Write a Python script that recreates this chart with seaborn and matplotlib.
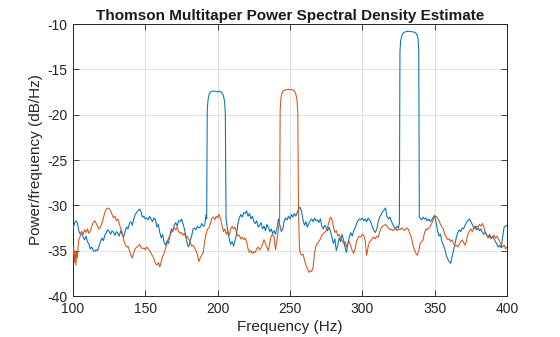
import numpy as np
import pandas as pd
import matplotlib
matplotlib.use("Agg")
import matplotlib.pyplot as plt
import seaborn as sns

# ---- data ----
blue_freq = [100, 101, 102, 103, 104, 105, 106, 107, 108, 109, 110, 111, 112, 113, 114, 115, 116, 117, 118, 119,
             120, 121, 122, 123, 124, 125, 126, 127, 128, 129, 130, 131, 132, 133, 134, 135, 136, 137, 138, 139,
             140, 141, 142, 143, 144, 145, 146, 147, 148, 149, 150, 151, 152, 153, 154, 155, 156, 157, 158, 159,
             160, 161, 162, 163, 164, 165, 166, 167, 168, 169, 170, 171, 172, 173, 174, 175, 176, 177, 178, 179,
             180, 181, 182, 183, 184, 185, 186, 187, 188, 189, 190, 191, 192, 192.4, 192.8, 193.3, 194, 195, 196.5, 198,
             200, 201, 202.5, 204, 204.8, 205.3, 205.8, 206.5, 207, 208, 209, 210, 211, 212, 213, 214, 215, 216, 217, 218,
             219, 220, 221, 222, 223, 224, 225, 226, 227, 228, 229, 230, 231, 232, 233, 234, 235, 236, 237, 238,
             239, 240, 241, 242, 243, 244, 245, 246, 247, 248, 249, 250, 251, 252, 253, 254, 255, 256, 257, 258,
             259, 260, 261, 262, 263, 264, 265, 266, 267, 268, 269, 270, 271, 272, 273, 274, 275, 276, 277, 278,
             279, 280, 281, 282, 283, 284, 285, 286, 287, 288, 289, 290, 291, 292, 293, 294, 295, 296, 297, 298,
             299, 300, 301, 302, 303, 304, 305, 306, 307, 308, 309, 310, 311, 312, 313, 314, 315, 316, 317, 318,
             319, 320, 321, 322, 323, 324, 325, 325.6, 326.0, 326.5, 327.5, 328.5, 330, 332, 334, 336, 337.5, 338.5, 339.0, 339.4,
             340, 341, 342, 343, 344, 345, 346, 347, 348, 349, 350, 351, 352, 353, 354, 355, 356, 357, 358, 359,
             360, 361, 362, 363, 364, 365, 366, 367, 368, 369, 370, 371, 372, 373, 374, 375, 376, 377, 378, 379,
             380, 381, 382, 383, 384, 385, 386, 387, 388, 389, 390, 391, 392, 393, 394, 395, 396, 397, 398, 399, 400]
blue_psd = [-32.6, -32.0, -31.7, -31.9, -32.8, -33.2, -32.9, -33.5, -33.8, -33.4, -34.0, -34.3, -34.8, -34.6, -35.0, -35.1, -34.9, -35.0, -34.5, -34.0,
            -33.6, -33.9, -33.3, -33.0, -32.7, -32.9, -33.2, -32.8, -33.0, -33.3, -32.9, -33.1, -33.4, -32.8, -33.2, -33.5, -32.9, -32.4, -32.6, -32.0,
            -31.8, -32.2, -31.5, -31.0, -30.8, -30.6, -30.4, -30.7, -31.3, -31.2, -31.5, -31.4, -31.6, -31.2, -31.5, -31.8, -31.4, -31.6, -32.4, -32.1,
            -33.0, -33.6, -33.2, -34.1, -34.4, -33.9, -34.2, -33.3, -32.6, -32.9, -32.2, -31.9, -32.3, -31.7, -31.8, -31.5, -32.0, -32.6, -33.4, -34.3,
            -34.6, -33.9, -33.4, -32.6, -32.5, -32.7, -32.3, -32.5, -32.4, -32.0, -32.3, -32.2, -31.0, -31.5, -19.5, -18.4, -17.8, -17.5, -17.4, -17.4,
            -17.5, -17.4, -17.5, -17.9, -18.6, -20.0, -31.5, -32.3, -33.0, -33.7, -34.3, -34.0, -34.5, -33.9, -33.2, -32.0, -31.4, -31.0, -31.3, -30.8,
            -30.9, -30.6, -31.2, -30.9, -31.5, -31.2, -31.8, -32.0, -31.7, -32.4, -32.2, -31.9, -32.6, -32.3, -32.8, -32.1, -32.4, -32.9, -32.6, -33.1,
            -32.8, -33.2, -32.5, -31.5, -32.2, -32.9, -32.6, -31.7, -31.4, -31.6, -31.2, -31.5, -31.0, -31.3, -30.9, -31.2, -30.8, -30.4, -30.2, -30.7,
            -31.6, -32.2, -31.8, -32.4, -32.0, -31.7, -31.5, -31.8, -31.4, -31.7, -31.6, -31.9, -31.5, -32.3, -32.6, -32.2, -32.5, -32.8, -32.4, -32.9,
            -33.5, -34.2, -33.7, -35.0, -34.4, -33.6, -34.0, -33.2, -33.8, -34.6, -35.2, -34.3, -33.5, -33.0, -33.4, -32.8, -32.5, -32.0, -31.7, -31.5,
            -31.6, -31.4, -31.7, -31.5, -31.8, -31.4, -31.6, -31.9, -32.4, -32.8, -33.0, -32.6, -31.8, -31.3, -31.0, -30.7, -30.5, -30.3, -31.2, -31.5,
            -31.3, -31.7, -32.1, -32.4, -32.6, -32.3, -32.5, -32.0, -13.0, -11.8, -11.2, -10.95, -10.85, -10.8, -10.85, -10.9, -11.1, -11.6, -13.0, -31.3,
            -31.4, -31.6, -31.3, -31.5, -31.4, -31.7, -31.5, -31.8, -31.6, -31.3, -31.1, -31.9, -32.8, -33.4, -33.2, -34.0, -34.4, -34.8, -35.5, -35.9,
            -36.2, -36.4, -35.7, -35.0, -34.3, -33.5, -33.0, -32.7, -32.9, -32.5, -32.6, -32.2, -31.9, -31.7, -31.5, -31.8, -32.1, -32.5, -32.3, -32.7,
            -32.5, -32.8, -32.6, -33.0, -33.2, -32.9, -33.3, -33.5, -33.2, -33.6, -33.4, -33.7, -34.0, -34.3, -34.6, -34.4, -34.7, -33.5, -32.4, -32.3, -32.2]

orange_freq = [100, 100.5, 101, 101.5, 102, 102.5, 103, 103.5, 104, 105, 106, 107, 108, 109, 110, 111, 112, 113, 114, 115,
               116, 117, 118, 119, 120, 121, 122, 123, 124, 125, 126, 127, 128, 129, 130, 131, 132, 133, 134, 135,
               136, 137, 138, 139, 140, 141, 142, 143, 144, 145, 146, 147, 148, 149, 150, 151, 152, 153, 154, 155,
               156, 157, 158, 159, 160, 161, 162, 163, 164, 165, 166, 167, 168, 169, 170, 171, 172, 173, 174, 175,
               176, 177, 178, 179, 180, 181, 182, 183, 184, 185, 186, 187, 188, 189, 190, 191, 192, 193, 194, 195,
               196, 197, 198, 199, 200, 201, 202, 203, 204, 205, 206, 207, 208, 209, 210, 211, 212, 213, 214, 215,
               216, 217, 218, 219, 220, 221, 222, 223, 224, 225, 226, 227, 228, 229, 230, 231, 232, 233, 234, 235,
               236, 237, 238, 239, 240, 241, 242, 242.8, 243.2, 243.7, 244.5, 245.5, 247, 249, 251, 252.5, 253.8, 254.8, 255.4, 255.9,
               256.5, 257, 258, 259, 260, 261, 262, 263, 264, 265, 266, 267, 268, 269, 270, 271, 272, 273, 274, 275,
               276, 277, 278, 279, 280, 281, 282, 283, 284, 285, 286, 287, 288, 289, 290, 291, 292, 293, 294, 295,
               296, 297, 298, 299, 300, 301, 302, 303, 304, 305, 306, 307, 308, 309, 310, 311, 312, 313, 314, 315,
               316, 317, 318, 319, 320, 321, 322, 323, 324, 325, 326, 327, 328, 329, 330, 331, 332, 333, 334, 335,
               336, 337, 338, 339, 340, 341, 342, 343, 344, 345, 346, 347, 348, 349, 350, 351, 352, 353, 354, 355,
               356, 357, 358, 359, 360, 361, 362, 363, 364, 365, 366, 367, 368, 369, 370, 371, 372, 373, 374, 375,
               376, 377, 378, 379, 380, 381, 382, 383, 384, 385, 386, 387, 388, 389, 390, 391, 392, 393, 394, 395,
               396, 397, 398, 399, 400]
orange_psd = [-35.5, -34.6, -36.3, -35.0, -36.6, -35.2, -35.8, -34.5, -33.8, -33.4, -32.9, -33.2, -32.7, -33.0, -32.6, -33.1, -32.8, -32.3, -31.9, -31.7,
              -32.0, -32.3, -32.6, -32.4, -32.0, -31.4, -30.8, -30.4, -30.3, -30.4, -30.6, -31.0, -31.4, -31.2, -31.7, -31.5, -32.0, -32.6, -33.0, -33.8,
              -34.3, -34.6, -34.5, -35.0, -35.5, -35.8, -35.2, -34.8, -34.6, -34.5, -34.3, -34.6, -34.8, -34.7, -34.9, -34.6, -34.8, -35.0, -35.3, -35.6,
              -35.9, -36.4, -36.6, -36.3, -36.8, -36.2, -35.6, -35.3, -34.7, -34.2, -33.6, -33.4, -33.0, -32.7, -32.5, -32.7, -32.4, -32.9, -33.1, -33.0,
              -33.3, -33.1, -33.6, -33.4, -33.7, -34.1, -34.5, -34.4, -34.7, -35.0, -35.4, -36.2, -35.8, -35.5, -35.2, -34.0, -33.2, -32.6, -32.5, -32.0,
              -31.4, -31.3, -31.6, -31.2, -31.4, -31.0, -31.5, -32.2, -32.9, -32.6, -33.2, -32.8, -33.3, -32.6, -32.3, -32.6, -32.4, -33.0, -33.4, -33.3,
              -33.7, -33.5, -33.8, -33.6, -34.0, -34.8, -35.2, -35.0, -35.3, -35.1, -35.2, -34.8, -34.6, -34.9, -34.7, -34.3, -33.8, -34.2, -34.6, -35.0,
              -34.2, -33.4, -33.2, -33.5, -34.9, -33.8, -32.6, -31.5, -19.5, -18.2, -17.6, -17.35, -17.25, -17.2, -17.25, -17.3, -17.6, -18.3, -19.8, -31.0,
              -34.5, -35.2, -35.5, -35.4, -36.0, -36.6, -37.0, -37.4, -37.2, -37.3, -36.8, -35.2, -34.4, -34.2, -34.0, -33.7, -33.3, -33.1, -33.0, -32.8,
              -32.4, -31.8, -31.3, -31.6, -32.3, -33.0, -32.8, -33.4, -33.2, -33.6, -33.9, -34.2, -34.0, -34.6, -34.1, -34.0, -34.5, -35.0, -35.3, -34.8,
              -34.0, -33.6, -33.4, -33.5, -33.2, -33.3, -33.9, -35.5, -34.6, -34.0, -33.9, -33.6, -33.5, -33.7, -33.4, -33.5, -32.9, -32.5, -32.3, -32.2,
              -32.1, -32.3, -32.5, -32.7, -32.6, -32.8, -32.7, -32.5, -32.8, -32.6, -32.7, -32.5, -32.6, -32.8, -32.6, -32.5, -32.7, -33.2, -33.6, -34.4,
              -34.9, -35.3, -35.5, -35.0, -34.2, -34.0, -33.8, -33.0, -32.6, -32.7, -32.5, -32.3, -32.0, -31.6, -31.3, -31.2, -31.4, -31.7, -32.1, -32.4,
              -32.6, -33.2, -33.5, -33.8, -33.7, -34.0, -33.8, -34.2, -34.5, -34.4, -34.6, -34.3, -34.0, -33.8, -34.1, -34.4, -33.9, -33.2, -32.8, -32.6,
              -32.9, -32.5, -32.6, -32.3, -32.4, -32.1, -32.3, -32.0, -32.4, -33.0, -33.3, -33.6, -33.4, -33.7, -33.5, -33.3, -33.6, -33.4, -33.7, -34.0,
              -34.3, -34.6, -34.4, -34.8, -34.6]

x_ticks = [100, 150, 200, 250, 300, 350, 400]
y_ticks = [-40, -35, -30, -25, -20, -15, -10]
title = "Thomson Multitaper Power Spectral Density Estimate"
x_label = "Frequency (Hz)"
y_label = "Power/frequency (dB/Hz)"

# ---- plotting ----
sns.set_theme(style="ticks")
plt.rcParams['font.family'] = ['Liberation Sans', 'DejaVu Sans']

fig = plt.figure(figsize=(5.6, 3.37), dpi=100)
ax = fig.add_axes([73 / 560, 41 / 337, 434 / 560, 272 / 337])

df_b = pd.DataFrame({"f": blue_freq, "p": blue_psd})
df_o = pd.DataFrame({"f": orange_freq, "p": orange_psd})
sns.lineplot(data=df_b, x="f", y="p", ax=ax, color="#0072BD", lw=0.75,
             estimator=None, sort=False, zorder=3)
sns.lineplot(data=df_o, x="f", y="p", ax=ax, color="#D95319", lw=0.75,
             estimator=None, sort=False, zorder=3)

ax.set_xlim(100, 400)
ax.set_ylim(-40, -10)
ax.set_xticks(x_ticks)
ax.set_yticks(y_ticks)
ax.set_xticklabels([str(v) for v in x_ticks])
ax.set_yticklabels([str(v) for v in y_ticks])
ax.grid(True, color="#dcdcdc", lw=0.6, zorder=0)
ax.set_axisbelow(True)
for s in ax.spines.values():
    s.set_color("#262626")
    s.set_linewidth(0.7)
ax.tick_params(direction="in", length=4, width=0.6, colors="#262626",
               labelsize=10, top=True, right=True, pad=4)
ax.set_xlabel(x_label, fontsize=11, color="#262626", labelpad=3)
ax.set_ylabel(y_label, fontsize=11, color="#262626", labelpad=3)
ax.set_title(title, fontsize=11, fontweight="bold", color="#1a1a1a", pad=3)

fig.savefig("out.png", dpi=100, facecolor="white")
